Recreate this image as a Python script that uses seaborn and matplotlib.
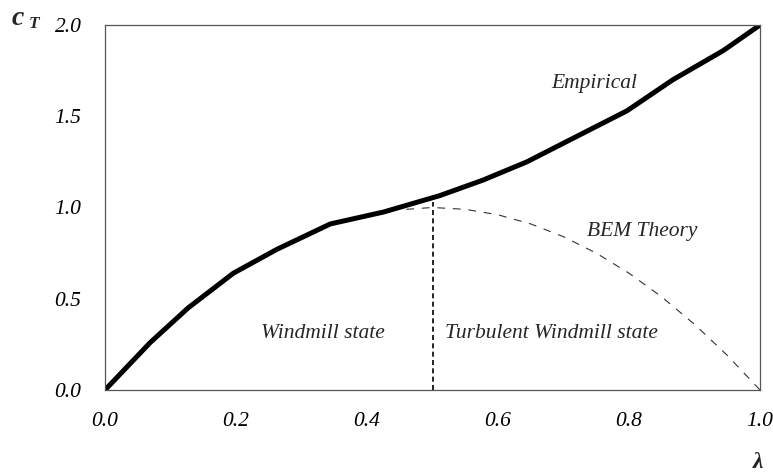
import matplotlib
matplotlib.use("Agg")
import matplotlib.pyplot as plt
import seaborn as sns
import pandas as pd

# Data
emp_lambda = [0.0, 0.069, 0.127, 0.196, 0.262, 0.344, 0.425, 0.511, 0.577, 0.644, 0.715, 0.797, 0.867, 0.944, 1.0]
emp_ct = [0.0, 0.26, 0.45, 0.64, 0.77, 0.91, 0.975, 1.065, 1.15, 1.25, 1.38, 1.53, 1.70, 1.86, 2.0]

bem_lambda = [0.46, 0.5, 0.55, 0.6, 0.65, 0.7, 0.75, 0.8, 0.85, 0.9, 0.95, 1.0]
bem_ct = [0.99, 1.0, 0.99, 0.96, 0.91, 0.84, 0.75, 0.64, 0.51, 0.36, 0.19, 0.0]

divider_lambda = [0.5, 0.5]
divider_ct = [0.0, 1.03]

x_ticks = [0.0, 0.2, 0.4, 0.6, 0.8, 1.0]
y_ticks = [0.0, 0.5, 1.0, 1.5, 2.0]

sns.set_style("white")
plt.rcParams['font.family'] = ['Liberation Serif', 'DejaVu Serif']

fig = plt.figure(figsize=(7.73, 4.75), dpi=100)
ax = fig.add_axes([105/773, 1 - 390/475, (760-105)/773, (390-25)/475])

df_emp = pd.DataFrame({"lam": emp_lambda, "ct": emp_ct})
df_bem = pd.DataFrame({"lam": bem_lambda, "ct": bem_ct})
df_div = pd.DataFrame({"lam": divider_lambda, "ct": divider_ct})

sns.lineplot(data=df_emp, x="lam", y="ct", ax=ax, color="black", linewidth=3.6,
             sort=False, estimator=None)
ax.lines[-1].set_solid_joinstyle("round")
sns.lineplot(data=df_bem, x="lam", y="ct", ax=ax, color="#333333", linewidth=0.8,
             sort=False, estimator=None)
ax.lines[-1].set_dashes([7, 7])
sns.lineplot(data=df_div, x="lam", y="ct", ax=ax, color="black", linewidth=1.2,
             sort=False, estimator=None)
ax.lines[-1].set_dashes([3, 2])

ax.set_xlim(0, 1)
ax.set_ylim(0, 2)
ax.set_xticks(x_ticks)
ax.set_yticks(y_ticks)
ax.set_xticklabels([f"{v:.1f}" for v in x_ticks], fontstyle="italic", fontsize=15.5)
ax.set_yticklabels([f"{v:.1f}" for v in y_ticks], fontstyle="italic", fontsize=15.5)
ax.tick_params(axis="x", direction="out", length=4, width=0.8, pad=12, colors="black")
ax.tick_params(axis="y", direction="out", length=5, width=0.8, pad=12, colors="black")
for lbl in ax.get_xticklabels():
    lbl.set_x(lbl.get_position()[0])
ax.set_xlabel("")
ax.set_ylabel("")
for s in ax.spines.values():
    s.set_visible(True)
    s.set_color("#555555")
    s.set_linewidth(0.9)

fig.text(12/773, 1 - 25/475, "c", fontsize=20, ha="left", va="baseline",
         fontweight="bold", fontstyle="italic")
fig.text(29/773, 1 - 28/475, "T", fontsize=12.5, ha="left", va="baseline",
         fontweight="bold", fontstyle="italic")
fig.text(758/773, 1 - 468/475, "λ", fontsize=17, ha="center", va="baseline",
         fontweight="bold", fontstyle="italic")

ax.text(0.747, 1.68, "Empirical", fontstyle="italic", fontsize=15.5, ha="center", va="center")
ax.text(0.82, 0.866, "BEM Theory", fontstyle="italic", fontsize=15.5, ha="center", va="center")
ax.text(0.333, 0.31, "Windmill state", fontstyle="italic", fontsize=15.5, ha="center", va="center")
ax.text(0.681, 0.31, "Turbulent Windmill state", fontstyle="italic", fontsize=15.5, ha="center", va="center")

fig.savefig("out.png", dpi=100)
